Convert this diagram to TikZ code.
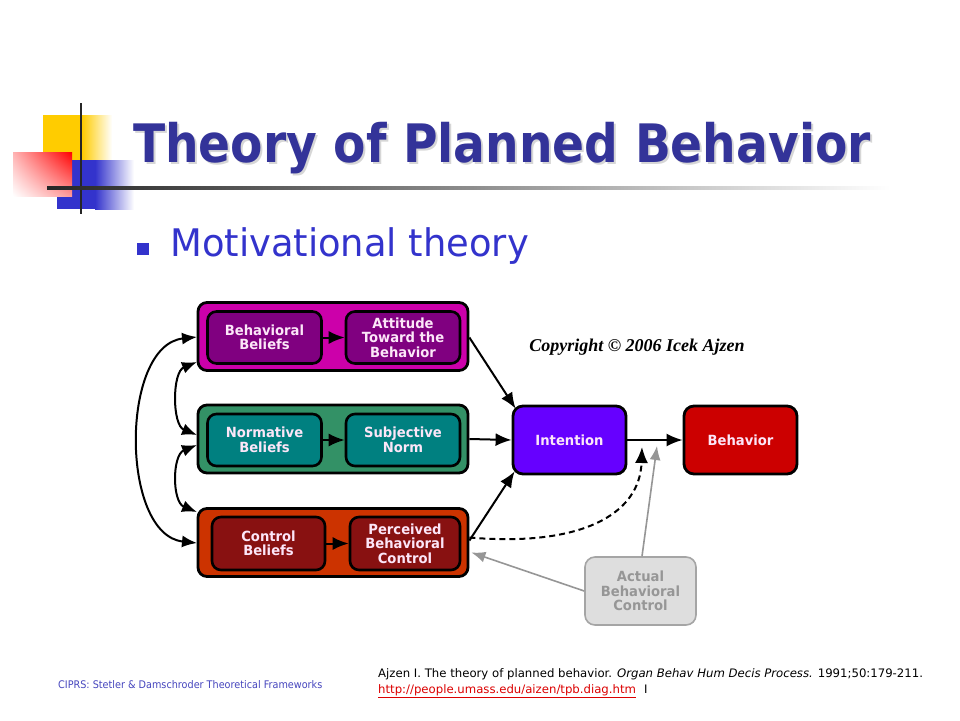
\documentclass[tikz,border=0pt]{standalone}
\usepackage{fontspec}
\usetikzlibrary{arrows.meta,shadings}
\newfontfamily\titlefont[FakeStretch=0.89]{DejaVu Sans}
\newfontfamily\subfont[FakeStretch=0.97]{DejaVu Sans}
\newfontfamily\diagfont[FakeStretch=0.94]{DejaVu Sans}
\newfontfamily\footfont[FakeStretch=0.92]{DejaVu Sans}
\newfontfamily\reffont{DejaVu Sans}
\newfontfamily\copyfont{Liberation Serif}
\definecolor{titleblue}{RGB}{51,51,153}
\definecolor{subblue}{RGB}{51,51,204}
\definecolor{footblue}{RGB}{70,70,190}
\definecolor{decoyellow}{RGB}{255,204,0}
\definecolor{decoblue}{RGB}{51,51,204}
\definecolor{toponeout}{RGB}{204,0,170}
\definecolor{topin}{RGB}{128,0,128}
\definecolor{midout}{RGB}{51,145,102}
\definecolor{midin}{RGB}{0,128,128}
\definecolor{botout}{RGB}{204,51,0}
\definecolor{botin}{RGB}{136,17,17}
\definecolor{intcol}{RGB}{102,0,255}
\definecolor{behcol}{RGB}{204,0,0}
\definecolor{abcfill}{RGB}{222,222,222}
\definecolor{abcdraw}{RGB}{165,165,165}
\definecolor{abctext}{RGB}{150,150,150}
\definecolor{lighttext}{RGB}{252,230,248}
\definecolor{linkred}{RGB}{220,0,0}
\tikzset{
  outerbox/.style={draw=black, line width=2.8pt, rounded corners=9pt, minimum width=270pt, minimum height=68pt, inner sep=0pt},
  innerbox/.style={draw=black, line width=2.6pt, rounded corners=9pt, minimum width=114pt, minimum height=52pt, inner sep=0pt, align=center, text=lighttext, font={\diagfont\bfseries\fontsize{14}{14.5}\selectfont}},
  mainbox/.style={draw=black, line width=2.8pt, rounded corners=10pt, minimum width=113pt, minimum height=68pt, inner sep=0pt, align=center, text=lighttext, font={\diagfont\bfseries\fontsize{14}{14.5}\selectfont}},
  arr/.style={line width=2pt, -{Latex[length=16pt,width=13pt]}},
  darr/.style={line width=2pt, {Latex[length=15pt,width=12pt]}-{Latex[length=15pt,width=12pt]}},
  grayarr/.style={draw=abctext, line width=1.6pt, -{Latex[length=14pt,width=11pt]}},
}
\begin{document}
\begin{tikzpicture}[x=1pt,y=-1pt]
\useasboundingbox (0,0) rectangle (960,720);
\fill[white] (0,0) rectangle (960,720);
% decoration
\fill[decoyellow] (43,115) rectangle (82,160);
\shade[left color=decoyellow, right color=white] (82,115) rectangle (112,160);
\fill[decoblue] (57,160) rectangle (95,209);
\shade[left color=decoblue, right color=white] (95,160) rectangle (134,209);
\shade[upper left=red!30, upper right=red, lower left=white, lower right=red!40] (13,152) rectangle (72,196);
\draw[line width=2.5pt, black!85] (81,103) -- (81,214);
\shade[left color=black!85, right color=white, middle color=black!45] (47,186.8) rectangle (890,189.4);
% title
\node[anchor=base west, inner sep=0pt, text=black!16, font={\titlefont\bfseries\fontsize{53}{60}\selectfont}] (titleshadow) at (135,164) {Theory of Planned Behavior};
\node[anchor=base west, inner sep=0pt, text=titleblue, font={\titlefont\bfseries\fontsize{53}{60}\selectfont}] (title) at (133,162) {Theory of Planned Behavior};
% bullet
\fill[subblue] (137,243) rectangle (149,255);
\node[anchor=base west, inner sep=0pt, text=subblue, font={\subfont\fontsize{38}{44}\selectfont}] (sub) at (170,256) {Motivational theory};
% outer boxes
\node[outerbox, fill=toponeout] (top) at (333,336.5) {};
\node[outerbox, fill=midout] (mid) at (333,439) {};
\node[outerbox, fill=botout] (bot) at (333,542.5) {};
% inner boxes
\node[innerbox, fill=topin] (bb) at (264.5,337.5) {Behavioral\\Beliefs};
\node[innerbox, fill=topin] (att) at (403,337.5) {Attitude\\Toward the\\Behavior};
\node[innerbox, fill=midin] (nb) at (264.5,440) {Normative\\Beliefs};
\node[innerbox, fill=midin] (sn) at (403,440) {Subjective\\Norm};
\node[innerbox, fill=botin, minimum width=113pt, minimum height=53pt] (cb) at (268.5,543.5) {Control\\Beliefs};
\node[innerbox, fill=botin, minimum width=110pt, minimum height=53pt] (pbc) at (405,543.5) {Perceived\\Behavioral\\Control};
% main boxes
\node[mainbox, fill=intcol] (int) at (569.5,440) {Intention};
\node[mainbox, fill=behcol] (beh) at (740.5,440) {Behavior};
\node[mainbox, fill=abcfill, draw=abcdraw, line width=1.6pt, text=abctext, minimum width=111pt] (abc) at (640.5,591) {Actual\\Behavioral\\Control};
% copyright
\node[anchor=center, inner sep=0pt, font={\copyfont\bfseries\itshape\fontsize{18}{20}\selectfont}] (copy) at (637,347) {Copyright \textcopyright{} 2006 Icek Ajzen};
% inner arrows
\draw[arr] (bb) -- (att);
\draw[arr] (nb) -- (sn);
\draw[arr] (cb) -- (pbc);
% to intention
\draw[arr] ([yshift=-1pt]top.east) -- ([shift={(4,4)}]int.north west);
\draw[arr] (mid.east) -- (int.west);
\draw[arr] ([yshift=2pt]bot.east) -- ([shift={(3,-4)}]int.south west);
\draw[arr] (int) -- (beh);
\coordinate (dashtip) at (642,447);
\draw[arr, dashed, dash pattern=on 6pt off 4pt] ([yshift=5pt]bot.east) .. controls (580,547) and (640,515) .. (dashtip);
% gray arrows
\coordinate (graytip) at (657,446);
\draw[grayarr] ([xshift=1.5pt]abc.north) -- (graytip);
\draw[grayarr] (abc.west) -- ([shift={(2,10)}]bot.east);
% left curves
\coordinate (tl1) at (197,337);
\coordinate (bl1) at (197,543);
\draw[darr] (tl1) .. controls (120,345) and (120,535) .. (bl1);
\coordinate (tl2) at (197,362);
\coordinate (ml2) at (197,435);
\draw[darr] (tl2) .. controls (172,372) and (172,425) .. (ml2);
\coordinate (ml3) at (197,445);
\coordinate (bl3) at (197,512);
\draw[darr] (ml3) .. controls (172,455) and (172,502) .. (bl3);
% footer
\node[anchor=west, inner sep=0pt, text=footblue, font={\footfont\fontsize{10.5}{12}\selectfont}] (foot1) at (58,685) {CIPRS: Stetler \& Damschroder Theoretical Frameworks};
\node[anchor=base west, inner sep=0pt, font={\reffont\fontsize{11.7}{13}\selectfont}] (ref1) at (378,677) {Ajzen I. The theory of planned behavior. \textit{Organ Behav Hum Decis Process.} 1991;50:179-211.};
\node[anchor=base west, inner sep=0pt, text=linkred, font={\reffont\fontsize{11.7}{13}\selectfont}] (ref2) at (378,693) {\underline{http://people.umass.edu/aizen/tpb.diag.htm}};
\node[anchor=base west, inner sep=0pt, font={\reffont\fontsize{11.7}{13}\selectfont}] (ref3) at (644,693) {I};
\end{tikzpicture}
\end{document}
